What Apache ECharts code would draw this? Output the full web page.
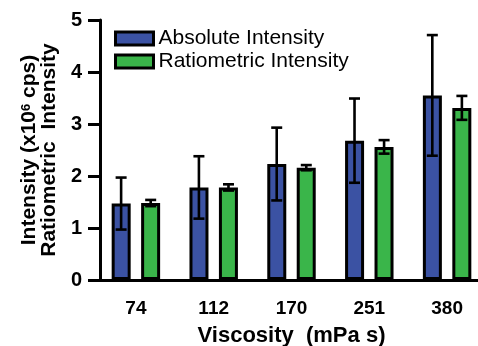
<!DOCTYPE html>
<html>
<head>
<meta charset="utf-8">
<script src="https://cdn.jsdelivr.net/npm/echarts@6/dist/echarts.min.js"></script>
<style>
html,body{margin:0;padding:0;background:#fff;}
#c{width:478px;height:346px;}
</style>
</head>
<body>
<div id="c"></div>
<script>
const categories = ['74', '112', '170', '251', '380'];
const absoluteIntensity = [1.47, 1.78, 2.23, 2.68, 3.55];
const absoluteErr = [0.50, 0.60, 0.70, 0.81, 1.16];
const ratiometricIntensity = [1.48, 1.78, 2.16, 2.56, 3.31];
const ratiometricErr = [0.06, 0.06, 0.05, 0.13, 0.23];
const yTicks = [0, 1, 2, 3, 4, 5];

const FONT = '"Liberation Sans", Arial, Helvetica, sans-serif';
const BLUE = '#3b52a3';
const GREEN = '#3ab54a';

function errData(vals, errs) {
  return vals.map((v, i) => [i, v - errs[i], v + errs[i]]);
}

function makeErrRender(sign) {
  return function (params, api) {
    const i = api.value(0);
    const hi = api.coord([i, api.value(2)]);
    const lo = api.coord([i, api.value(1)]);
    const band = api.size([1, 0])[0];
    const x = hi[0] + sign * band * 0.19;
    const cap = 5.5;
    const st = { stroke: '#000', lineWidth: 2.6 };
    return {
      type: 'group',
      children: [
        { type: 'line', shape: { x1: x, y1: hi[1], x2: x, y2: lo[1] }, style: st },
        { type: 'line', shape: { x1: x - cap, y1: hi[1], x2: x + cap, y2: hi[1] }, style: st },
        { type: 'line', shape: { x1: x - cap, y1: lo[1], x2: x + cap, y2: lo[1] }, style: st }
      ]
    };
  };
}

const chart = echarts.init(document.getElementById('c'), null, { renderer: 'canvas' });
chart.setOption({
  animation: false,
  backgroundColor: '#fff',
  textStyle: { fontFamily: FONT },
  grid: { left: 97, top: 20, width: 389, bottom: 66, containLabel: false, outerBoundsMode: 'none' },
  legend: {
    orient: 'vertical',
    left: 109,
    top: 23,
    padding: 5,
    itemWidth: 38,
    itemHeight: 13,
    itemGap: 2,
    icon: 'rect',
    textStyle: { fontFamily: FONT, fontSize: 21, color: '#000' },
    itemStyle: { borderColor: '#000', borderWidth: 3 },
    data: ['Absolute Intensity', 'Ratiometric Intensity']
  },
  xAxis: {
    type: 'category',
    data: categories,
    name: 'Viscosity  (mPa s)',
    nameLocation: 'middle',
    nameGap: 45,
    nameTextStyle: { fontFamily: FONT, fontSize: 22, fontWeight: 'bold', color: '#000' },
    axisLine: { lineStyle: { color: '#000', width: 3 } },
    axisTick: { alignWithLabel: true, length: 9, lineStyle: { color: '#000', width: 3 } },
    axisLabel: { fontFamily: FONT, fontSize: 19, fontWeight: 'bold', color: '#000', margin: 19 },
    splitLine: { show: false }
  },
  yAxis: {
    type: 'value',
    min: yTicks[0],
    max: yTicks[yTicks.length - 1],
    interval: 1,
    offset: -3,
    name: '{a|Intensity (x10}{s|6}{a| cps)}\n{a|Ratiometric  Intensity}',
    nameLocation: 'middle',
    nameGap: 40,
    nameRotate: 90,
    nameTextStyle: {
      fontFamily: FONT, color: '#000',
      rich: {
        a: { fontFamily: FONT, fontSize: 21, fontWeight: 'bold', color: '#000', lineHeight: 20 },
        s: { fontFamily: FONT, fontSize: 13, fontWeight: 'bold', color: '#000', verticalAlign: 'top', lineHeight: 20 }
      }
    },
    axisLine: { show: true, lineStyle: { color: '#000', width: 3 } },
    axisTick: { show: true, length: 12, lineStyle: { color: '#000', width: 3 } },
    axisLabel: { fontFamily: FONT, fontSize: 20, fontWeight: 'bold', color: '#000', margin: 18 },
    splitLine: { show: false }
  },
  series: [
    {
      name: 'Absolute Intensity',
      type: 'bar',
      data: absoluteIntensity,
      barWidth: 19,
      barGap: '55%',
      itemStyle: { color: BLUE, borderColor: '#000', borderWidth: 3 },
      z: 2
    },
    {
      name: 'Ratiometric Intensity',
      type: 'bar',
      data: ratiometricIntensity,
      barWidth: 19,
      barGap: '55%',
      itemStyle: { color: GREEN, borderColor: '#000', borderWidth: 3 },
      z: 2
    },
    {
      type: 'custom',
      name: 'absErr',
      data: errData(absoluteIntensity, absoluteErr),
      encode: { x: 0, y: [1, 2] },
      renderItem: makeErrRender(-1),
      z: 5,
      silent: true
    },
    {
      type: 'custom',
      name: 'ratErr',
      data: errData(ratiometricIntensity, ratiometricErr),
      encode: { x: 0, y: [1, 2] },
      renderItem: makeErrRender(1),
      z: 5,
      silent: true
    }
  ]
});
</script>
</body>
</html>
